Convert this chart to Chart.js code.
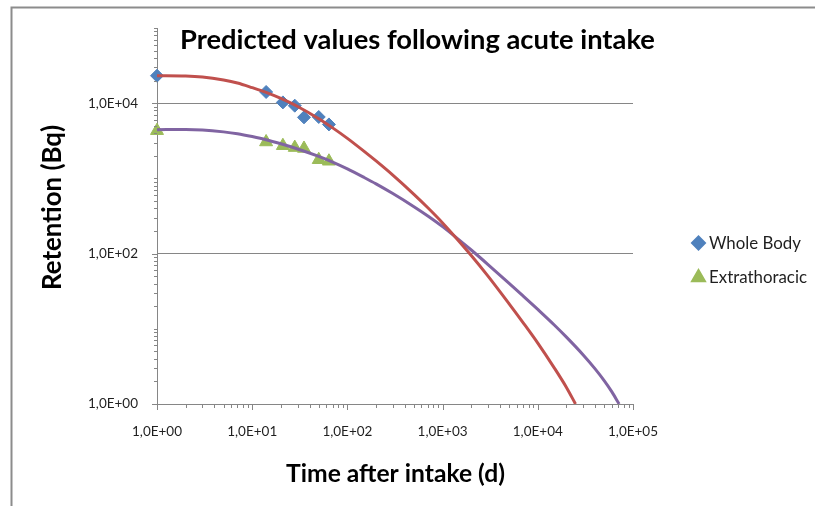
<!DOCTYPE html>
<html>
<head>
<meta charset="utf-8">
<script src="https://cdn.jsdelivr.net/npm/chart.js@4.4.0/dist/chart.umd.min.js"></script>
<style>
html,body{margin:0;padding:0;background:#ffffff;}
#wrap{width:815px;height:506px;position:relative;}
</style>
</head>
<body>
<div id="wrap"><canvas id="c" width="815" height="506"></canvas></div>
<script>
// ---- text ----
const chartTitle = 'Predicted values following acute intake';
const xAxisTitle = 'Time after intake (d)';
const yAxisTitle = 'Retention (Bq)';
const seriesNames = ['Whole Body', 'Extrathoracic'];

// ---- measured samples (days, Bq) ----
const sampleDays = [1, 14, 21, 28, 35, 50, 64];
const wholeBodyBq = [23200, 14100, 10250, 9270, 6480, 6560, 5220];
const extrathoracicBq = [4310, 3050, 2720, 2570, 2500, 1770, 1690];

// ---- predicted curves (days, Bq) ----
const wbFitDays = [1, 2, 3, 5, 7, 10, 14, 20, 30, 50, 70, 100, 150, 200, 300, 500, 700, 1000, 2000, 3000, 5000, 7000, 10000, 15000, 20000, 24900];
const wbFitBq   = [23200, 22990, 22300, 20340, 18550, 16090, 13920, 11550, 9040, 6223, 4697, 3406, 2288, 1706, 1105, 614, 407, 256, 94.4, 50.2, 21.5, 12.1, 6.45, 2.98, 1.66, 1.0];
const etFitDays = [1, 2, 3, 5, 7, 10, 14, 20, 30, 50, 70, 100, 150, 200, 300, 500, 700, 1000, 2000, 3000, 5000, 7000, 10000, 15000, 20000, 30000, 40000, 50000, 60000, 71450];
const etFitBq   = [4445, 4473, 4405, 4155, 3922, 3598, 3273, 2886, 2463, 1963, 1650, 1339, 1029, 846.7, 629.1, 421.2, 316.9, 228.5, 111.6, 71.6, 40.3, 27.4, 18.1, 11.15, 7.74, 4.49, 2.93, 2.03, 1.45, 1.0];

// ---- axis ticks ----
const xTickValues = [1, 10, 100, 1000, 10000, 100000];
const xTickLabels = ['1,0E+00', '1,0E+01', '1,0E+02', '1,0E+03', '1,0E+04', '1,0E+05'];
const yTickValues = [1, 100, 10000];
const yTickLabels = ['1,0E+00', '1,0E+02', '1,0E+04'];

const pts = (xs, ys) => xs.map((x, i) => ({x: x, y: ys[i]}));

const AXIS = '#868686';
const TXT = '#1f1f1f';

function fitSize(ctx, text, weight, family, target) {
  ctx.font = weight + ' 100px ' + family;
  return 100 * target / ctx.measureText(text).width;
}

const minorTicks = {
  id: 'minorTicks',
  afterDraw(chart) {
    const ctx = chart.ctx, xs = chart.scales.x, ys = chart.scales.y, a = chart.chartArea;
    ctx.save();
    ctx.strokeStyle = AXIS;
    ctx.lineWidth = 1;
    ctx.beginPath();
    for (let e = 0; e <= 5; e++) {
      for (let m = 1; m <= 9; m++) {
        const v = m * Math.pow(10, e);
        if (v > 100000) break;
        const px = Math.round(xs.getPixelForValue(v)) + 0.5;
        const xl = (m === 1) ? 6 : 4;
        ctx.moveTo(px, a.bottom);
        ctx.lineTo(px, a.bottom + xl);
        const py = Math.round(ys.getPixelForValue(v)) + 0.5;
        const yl = (m === 1 && e % 2 === 0) ? 5 : 3;
        ctx.moveTo(a.left, py);
        ctx.lineTo(a.left - yl, py);
      }
    }
    ctx.stroke();
    ctx.restore();
  }
};

const overlay = {
  id: 'overlay',
  afterDraw(chart) {
    const ctx = chart.ctx;
    ctx.save();
    // outer frame
    ctx.strokeStyle = '#8c8c8c';
    ctx.lineWidth = 2;
    ctx.beginPath();
    ctx.moveTo(11.5, 506);
    ctx.lineTo(11.5, 7.5);
    ctx.lineTo(815, 7.5);
    ctx.stroke();

    ctx.fillStyle = '#000000';
    // title
    let s = fitSize(ctx, chartTitle, 'bold', 'Lato', 475);
    ctx.font = 'bold ' + s + 'px Lato';
    ctx.textAlign = 'left';
    ctx.textBaseline = 'alphabetic';
    ctx.fillText(chartTitle, 180, 49);

    // x axis title
    s = fitSize(ctx, xAxisTitle, 'bold', 'Lato', 219);
    ctx.font = 'bold ' + s + 'px Lato';
    ctx.textAlign = 'center';
    ctx.fillText(xAxisTitle, 395.5, 482);

    // y axis title
    s = fitSize(ctx, yAxisTitle, 'bold', 'Lato', 165);
    ctx.font = 'bold ' + s + 'px Lato';
    ctx.save();
    ctx.translate(61, 207.5);
    ctx.rotate(-Math.PI / 2);
    ctx.textAlign = 'center';
    ctx.fillText(yAxisTitle, 0, 0);
    ctx.restore();

    // legend
    const ls = fitSize(ctx, seriesNames[1], 'normal', 'Lato', 98);
    const rows = [{ds: chart.data.datasets[2], y: 243}, {ds: chart.data.datasets[3], y: 277.5}];
    rows.forEach((r, i) => {
      ctx.fillStyle = r.ds.backgroundColor;
      ctx.strokeStyle = r.ds.borderColor;
      Chart.helpers.drawPoint(ctx, {pointStyle: r.ds.pointStyle, radius: r.ds.pointRadius, borderWidth: 1}, 698.5, r.y);
      ctx.fillStyle = TXT;
      ctx.font = 'normal ' + ls + 'px Lato';
      ctx.textAlign = 'left';
      ctx.textBaseline = 'middle';
      ctx.fillText(seriesNames[i], 709, r.y + 0.5);
    });
    ctx.restore();
  }
};

new Chart(document.getElementById('c'), {
  type: 'scatter',
  data: {
    datasets: [
      {label: seriesNames[0] + ' (predicted)', data: pts(wbFitDays, wbFitBq), showLine: true, borderColor: '#C0504D', backgroundColor: '#C0504D', borderWidth: 3, pointRadius: 0, cubicInterpolationMode: 'monotone', order: 0},
      {label: seriesNames[1] + ' (predicted)', data: pts(etFitDays, etFitBq), showLine: true, borderColor: '#8064A2', backgroundColor: '#8064A2', borderWidth: 3, pointRadius: 0, cubicInterpolationMode: 'monotone', order: 0},
      {label: seriesNames[0], data: pts(sampleDays, wholeBodyBq), showLine: false, pointStyle: 'rectRot', pointRadius: 6.5, backgroundColor: '#4F81BD', borderColor: '#4F81BD', borderWidth: 1, order: 1, clip: false},
      {label: seriesNames[1], data: pts(sampleDays, extrathoracicBq), showLine: false, pointStyle: 'triangle', pointRadius: 7.5, backgroundColor: '#9BBB59', borderColor: '#9BBB59', borderWidth: 1, order: 1, clip: false}
    ]
  },
  options: {
    responsive: false,
    animation: false,
    devicePixelRatio: 1,
    events: [],
    layout: {padding: {left: 0, top: 28, right: 182, bottom: 0}},
    plugins: {legend: {display: false}, title: {display: false}, tooltip: {enabled: false}},
    scales: {
      x: {
        type: 'logarithmic', position: 'bottom', min: 1, max: 100000,
        afterFit(s) { s.height = 102; },
        afterBuildTicks(s) { s.ticks = xTickValues.map(v => ({value: v})); },
        ticks: {autoSkip: false, maxRotation: 0, minRotation: 0, padding: 20, color: TXT,
                font: {family: 'Lato', size: 13.5}, callback: (v, i) => xTickLabels[i]},
        grid: {drawOnChartArea: false, drawTicks: false},
        border: {color: AXIS, width: 1}
      },
      y: {
        type: 'logarithmic', position: 'left', min: 1, max: 100000,
        afterFit(s) { s.width = 157; },
        afterBuildTicks(s) { s.ticks = yTickValues.map(v => ({value: v})); },
        ticks: {autoSkip: false, padding: 19, color: TXT,
                font: {family: 'Lato', size: 13.5}, callback: (v, i) => yTickLabels[i]},
        grid: {drawTicks: false, lineWidth: 1, color: (c) => (c.tick && c.tick.value > 1) ? AXIS : 'rgba(0,0,0,0)'},
        border: {color: AXIS, width: 1}
      }
    }
  },
  plugins: [minorTicks, overlay]
});
</script>
</body>
</html>
